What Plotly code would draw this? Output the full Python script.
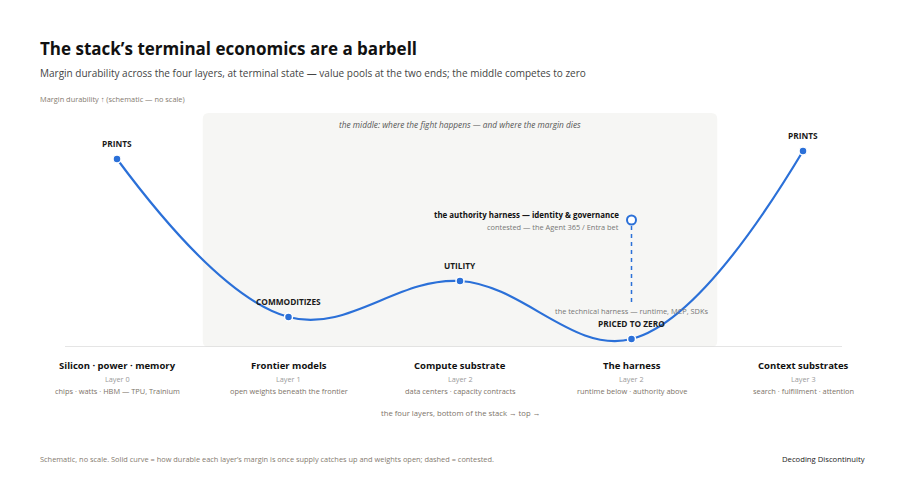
import plotly.graph_objects as go

# ---- data ----
layers = ["Silicon · power · memory", "Frontier models", "Compute substrate", "The harness", "Context substrates"]
layer_ids = ["Layer 0", "Layer 1", "Layer 2", "Layer 2", "Layer 3"]
layer_desc = ["chips · watts · HBM — TPU, Trainium", "open weights beneath the frontier",
              "data centers · capacity contracts", "runtime below · authority above",
              "search · fulfillment · attention"]
durability = [9.4, 1.5, 3.3, 0.4, 9.8]
point_labels = ["PRINTS", "COMMODITIZES", "UTILITY", "PRICED TO ZERO", "PRINTS"]
contested_x = [3]
contested_top = [6.35]
contested_bottom = [2.25]

x_idx = list(range(len(layers)))

FONT = "Open Sans"
BLUE = "#2b70d8"

# layout geometry (pixels, in window coords; page body has an 8px margin)
OFF = 8
W, H = 908, 480
PL, PR, PT, PB = 65, 842, 100, 347   # plot area in window pixels
L = PL - OFF
T = PT - OFF
R = W - (PR - OFF)
B = H - (PB - OFF)
PW = PR - PL
PH = PB - PT
XU = 171.5   # px per category step
YU = 20.0    # px per durability unit

def pxx(px):
    return (px - PL) / PW

def pyy(py):
    return (PB - py) / PH

fig = go.Figure()

# middle shaded region (rounded)
x0, x1, y0, y1 = 0.5, 3.5, 0.0, 11.7
rx, ry = 6 / XU, 6 / YU
path = (f"M {x0+rx},{y0} L {x1-rx},{y0} Q {x1},{y0} {x1},{y0+ry} L {x1},{y1-ry} "
        f"Q {x1},{y1} {x1-rx},{y1} L {x0+rx},{y1} Q {x0},{y1} {x0},{y1-ry} "
        f"L {x0},{y0+ry} Q {x0},{y0} {x0+rx},{y0} Z")
fig.add_shape(type="path", xref="x", yref="y", path=path,
              fillcolor="#f6f6f4", line=dict(width=0), layer="below")
# baseline
fig.add_shape(type="line", xref="paper", yref="y", x0=0, x1=1, y0=0, y1=0,
              line=dict(color="#dcdcdc", width=1.5))

# dashed contested line
fig.add_trace(go.Scatter(x=[contested_x[0], contested_x[0]], y=[contested_bottom[0], contested_top[0]],
                         mode="lines", line=dict(color=BLUE, width=1.5, dash="4px,4px"),
                         hoverinfo="skip", showlegend=False))

# main curve
fig.add_trace(go.Scatter(x=x_idx, y=durability, mode="lines",
                         line=dict(color=BLUE, width=2.2, shape="spline", smoothing=1.1),
                         hoverinfo="skip", showlegend=False))
fig.add_trace(go.Scatter(x=x_idx, y=durability, mode="markers",
                         marker=dict(color=BLUE, size=8, line=dict(color="white", width=1.5)),
                         hoverinfo="skip", showlegend=False))
# contested open point
fig.add_trace(go.Scatter(x=contested_x, y=contested_top, mode="markers",
                         marker=dict(color="white", size=9, line=dict(color=BLUE, width=2)),
                         hoverinfo="skip", showlegend=False))

ann = []
# point labels
for i, (lab, v) in enumerate(zip(point_labels, durability)):
    ann.append(dict(x=i, y=v, xref="x", yref="y", text="<b>" + lab + "</b>", showarrow=False,
                    yshift=16, font=dict(family=FONT, size=8.3, color="#1a1a1a")))

# layer labels below axis
for i in x_idx:
    ann.append(dict(x=i, y=0, xref="x", yref="y", text="<b>" + layers[i] + "</b>", showarrow=False,
                    yshift=-18, font=dict(family=FONT, size=9.5, color="#111")))
    ann.append(dict(x=i, y=0, xref="x", yref="y", text=layer_ids[i], showarrow=False,
                    yshift=-32, font=dict(family=FONT, size=7.3, color="#9a9a9a")))
    ann.append(dict(x=i, y=0, xref="x", yref="y", text=layer_desc[i], showarrow=False,
                    yshift=-44, font=dict(family=FONT, size=7.4, color="#7d7369")))

ann.append(dict(x=2, y=0, xref="x", yref="y", text="the four layers, bottom of the stack → top →",
                showarrow=False, yshift=-66, font=dict(family=FONT, size=7.7, color="#7d7369")))

# contested annotations
ann.append(dict(x=contested_x[0], y=contested_top[0], xref="x", yref="y",
                text="<b>the authority harness — identity & governance</b>", showarrow=False,
                xanchor="right", xshift=-11, yshift=5, font=dict(family=FONT, size=7.9, color="#111")))
ann.append(dict(x=contested_x[0], y=contested_top[0], xref="x", yref="y",
                text="contested — the Agent 365 / Entra bet", showarrow=False,
                xanchor="right", xshift=-11, yshift=-7, font=dict(family=FONT, size=7.4, color="#777")))
ann.append(dict(x=contested_x[0], y=contested_bottom[0], xref="x", yref="y",
                text="the technical harness — runtime, MCP, SDKs", showarrow=False,
                yshift=-9, font=dict(family=FONT, size=7.4, color="#777")))

# middle caption
ann.append(dict(x=2, y=y1, xref="x", yref="y",
                text="<i>the middle: where the fight happens — and where the margin dies</i>",
                showarrow=False, yshift=-11, font=dict(family=FONT, size=8.3, color="#555")))

# titles and notes
ann.append(dict(x=pxx(38), y=pyy(48), xref="paper", yref="paper", xanchor="left", yanchor="middle",
                text="<b>The stack’s terminal economics are a barbell</b>", showarrow=False,
                font=dict(family=FONT, size=17, color="#111")))
ann.append(dict(x=pxx(38), y=pyy(73), xref="paper", yref="paper", xanchor="left", yanchor="middle",
                text="Margin durability across the four layers, at terminal state — value pools at the two ends; the middle competes to zero",
                showarrow=False, font=dict(family=FONT, size=10, color="#444")))
ann.append(dict(x=pxx(38), y=pyy(99), xref="paper", yref="paper", xanchor="left", yanchor="middle",
                text="Margin durability ↑ (schematic — no scale)", showarrow=False,
                font=dict(family=FONT, size=7.4, color="#857b70")))
ann.append(dict(x=pxx(38), y=pyy(459), xref="paper", yref="paper", xanchor="left", yanchor="middle",
                text="Schematic, no scale. Solid curve = how durable each layer’s margin is once supply catches up and weights open; dashed = contested.",
                showarrow=False, font=dict(family=FONT, size=7.4, color="#857b70")))
ann.append(dict(x=pxx(867), y=pyy(459), xref="paper", yref="paper", xanchor="right", yanchor="middle",
                text="Decoding Discontinuity", showarrow=False,
                font=dict(family=FONT, size=7.7, color="#222")))

fig.update_layout(
    width=W, height=H,
    margin=dict(l=L, r=R, t=T, b=B),
    paper_bgcolor="white", plot_bgcolor="white",
    xaxis=dict(range=[(PL - 117) / XU, (PR - 117) / XU], visible=False, fixedrange=True),
    yaxis=dict(range=[0, PH / YU], visible=False, fixedrange=True),
    annotations=ann,
    showlegend=False,
    font=dict(family=FONT),
)

fig.write_html("out.html", config={"displayModeBar": False})
